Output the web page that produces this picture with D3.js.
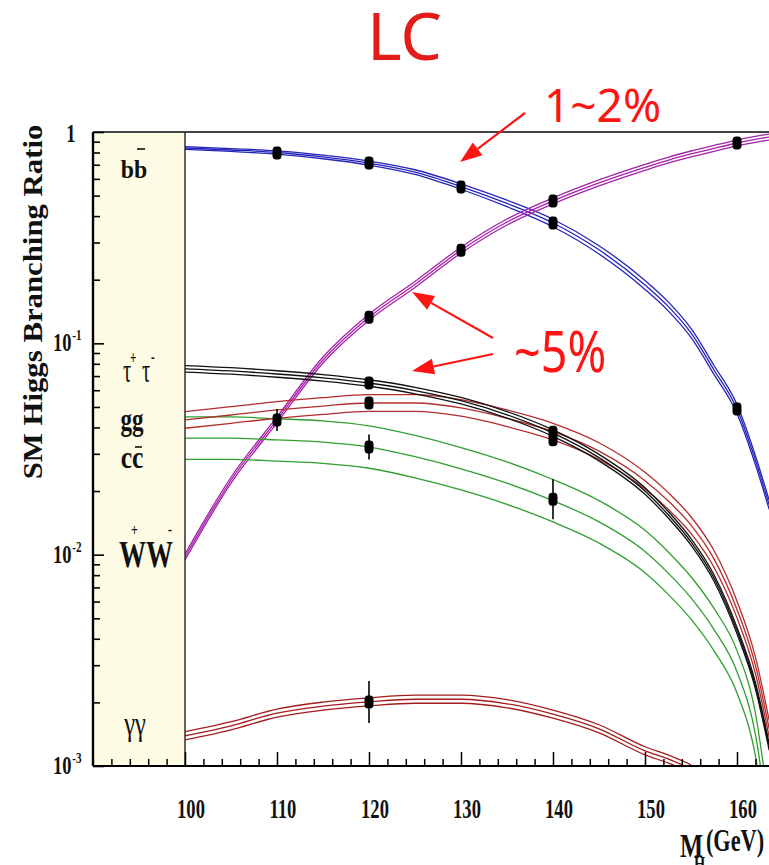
<!DOCTYPE html>
<html>
<head>
<meta charset="utf-8">
<script src="https://cdn.jsdelivr.net/npm/d3@7"></script>
<style>
  html, body { margin: 0; padding: 0; background: #fff; }
  svg { display: block; }
</style>
</head>
<body>
<svg id="chart" width="769" height="865"></svg>
<script>
// Higgs mass grid (GeV) at which the branching-ratio curves are sampled
const massGrid = [100, 105, 110, 115, 120, 125, 130, 135, 140, 145, 150, 152.5, 155, 157.5, 160, 162, 163.5];

// Central branching ratios per decay channel
const brBB     = [0.84, 0.822, 0.80, 0.762, 0.713, 0.646, 0.552, 0.459, 0.371, 0.277, 0.189, 0.15, 0.112, 0.0748, 0.0489, 0.028, 0.0172];
const brWW     = [0.00975, 0.0225, 0.0434, 0.0834, 0.133, 0.19, 0.276, 0.375, 0.472, 0.574, 0.68, 0.735, 0.787, 0.837, 0.887, 0.923, 0.946];
const brTauTau = [0.0757, 0.074, 0.0716, 0.0687, 0.0649, 0.0598, 0.0535, 0.0459, 0.0376, 0.0288, 0.02, 0.0155, 0.0115, 0.00776, 0.00437, 0.0024, 0.00123];
const brGG     = [0.0434, 0.0458, 0.0484, 0.0505, 0.0522, 0.0522, 0.0495, 0.0442, 0.0382, 0.0309, 0.0224, 0.018, 0.0138, 0.00955, 0.0055, 0.003, 0.0015];
const brCC     = [0.0356, 0.0356, 0.0349, 0.0341, 0.0323, 0.0291, 0.0255, 0.0218, 0.018, 0.0143, 0.01035, 0.0082, 0.00624, 0.00442, 0.00279, 0.00141, 0.0005];
const brGamGam = [0.00139, 0.00155, 0.00178, 0.00192, 0.00201, 0.00207, 0.00207, 0.00197, 0.00176, 0.0015, 0.00118, 0.00108, 0.00097, null, null, null, null];

// Relative half-width of the theory band around each curve
const bandBB = [0.016, 0.016, 0.018, 0.02, 0.022, 0.026, 0.03, 0.036, 0.042, 0.046, 0.05, 0.05, 0.05, 0.05, 0.05, 0.05, 0.05];
const bandWW = 0.033, bandTauTau = 0.036, bandGG = 0.095, bandCC = 0.26, bandGamGam = 0.045;

// Expected LC measurements: mass, branching ratio, relative error
const ptsBB     = { m: [110, 120, 130, 140, 160], v: [0.795, 0.713, 0.549, 0.371, 0.0489], e: [0.012, 0.015, 0.018, 0.022, 0.05] };
const ptsWW     = { m: [110, 120, 130, 140, 160], v: [0.0434, 0.133, 0.276, 0.472, 0.887], e: [0.127, 0.03, 0.02, 0.015, 0.01] };
const ptsTauTau = { m: [120, 140], v: [0.0649, 0.035], e: [0.05, 0.05] };
const ptsGG     = { m: [120, 140], v: [0.0522, 0.038], e: [0.055, 0.07] };
const ptsCC     = { m: [120, 140], v: [0.0323, 0.0183], e: [0.146, 0.243] };
const ptsGamGam = { m: [120], v: [0.00201], e: [0.257] };

// Axis ticks
const xMajorTicks = [100, 110, 120, 130, 140, 150, 160];
const yMajorTicks = [1, 0.1, 0.01, 0.001];
const yTickExp = ["", "-1", "-2", "-3"];

// Precision call-outs: [tail mass, tail BR, tip mass, tip BR]
const arrows = [
  [136.96, 1.23, 129.9, 0.721],
  [133.48, 0.106, 124.67, 0.175],
  [133.48, 0.089, 124.67, 0.074]
];

(function draw() {
  const svg = d3.select("#chart");
  const padL = 93, padR = 769, padT = 132, padB = 766;

  const x = d3.scaleLinear().domain([90, 165]).range([padL, padL + 75 * 9.2]);
  const y = d3.scaleLog().domain([1e-3, 1]).range([padB, padT]);

  const serif = "'Liberation Serif', 'DejaVu Serif', serif";
  const sans = "'Noto Sans', 'Open Sans', sans-serif";

  // Text helper: horizontally condensed serif lettering
  function label(g, px, py, s, size, sx, opts = {}) {
    return g.append("text")
      .attr("transform", `translate(${px},${py}) scale(${sx},1)`)
      .attr("font-family", opts.family || serif)
      .attr("font-weight", opts.weight || "bold")
      .attr("font-size", size)
      .attr("text-anchor", opts.anchor || "start")
      .attr("fill", opts.fill || "#111")
      .text(s);
  }
  // Multi-part label: pieces placed in the text's own (scaled) frame
  function composite(g, px, py, sx, parts) {
    const t = g.append("text")
      .attr("transform", `translate(${px},${py}) scale(${sx},1)`)
      .attr("font-family", serif).attr("fill", "#111");
    parts.forEach(p => {
      t.append("tspan")
        .attr("x", p.x).attr("y", p.y)
        .attr("font-size", p.size)
        .attr("font-weight", p.weight || "bold")
        .text(p.s);
    });
    return t;
  }

  // Cream channel-label panel on the left
  svg.append("rect")
    .attr("x", padL).attr("y", padT)
    .attr("width", x(100) - padL).attr("height", padB - padT)
    .attr("fill", "#fdfbe4");

  // Clip region for curves
  svg.append("defs").append("clipPath").attr("id", "plotClip")
    .append("rect").attr("x", x(100)).attr("y", padT)
    .attr("width", padR - x(100)).attr("height", padB - padT);

  const plot = svg.append("g").attr("clip-path", "url(#plotClip)");

  function series(vals) {
    return massGrid.map((m, i) => ({ m, v: vals[i] }));
  }
  const line = d3.line()
    .defined(d => d.v != null)
    .x(d => x(d.m)).y(d => y(d.v))
    .curve(d3.curveMonotoneX);

  const channels = [
    { vals: brBB, band: bandBB, color: "#2424b8" },
    { vals: brWW, band: bandWW, color: "#a522aa" },
    { vals: brCC, band: bandCC, color: "#2f9f2f" },
    { vals: brGG, band: bandGG, color: "#b52c2c" },
    { vals: brTauTau, band: bandTauTau, color: "#111111" },
    { vals: brGamGam, band: bandGamGam, color: "#a51c1c" }
  ];

  channels.forEach(ch => {
    const bw = i => Array.isArray(ch.band) ? ch.band[i] : ch.band;
    const mid = ch.vals;
    const hi = mid.map((v, i) => v == null ? null : v * (1 + bw(i)));
    const lo = mid.map((v, i) => v == null ? null : v / (1 + bw(i)));
    [hi, mid, lo].forEach(arr => {
      plot.append("path")
        .datum(series(arr))
        .attr("d", line)
        .attr("fill", "none")
        .attr("stroke", ch.color)
        .attr("stroke-width", 1.3);
    });
  });

  // Measurement markers with error bars
  [ptsBB, ptsWW, ptsTauTau, ptsGG, ptsCC, ptsGamGam].forEach(p => {
    p.m.forEach((m, i) => {
      const v = p.v[i], e = p.e[i];
      plot.append("line")
        .attr("x1", x(m)).attr("x2", x(m))
        .attr("y1", y(v * (1 + e))).attr("y2", y(v / (1 + e)))
        .attr("stroke", "#000").attr("stroke-width", 1.6);
      plot.append("rect")
        .attr("x", x(m) - 4.5).attr("y", y(v) - 6.5)
        .attr("width", 9).attr("height", 13)
        .attr("rx", 3.5).attr("ry", 4)
        .attr("fill", "#000");
    });
  });

  // Frame
  svg.append("line").attr("x1", padL).attr("x2", padR).attr("y1", padT).attr("y2", padT)
    .attr("stroke", "#444").attr("stroke-width", 2);
  svg.append("line").attr("x1", padL).attr("x2", padR).attr("y1", padB).attr("y2", padB)
    .attr("stroke", "#000").attr("stroke-width", 2.2);
  svg.append("line").attr("x1", padL).attr("x2", padL).attr("y1", padT).attr("y2", padB)
    .attr("stroke", "#000").attr("stroke-width", 2.4);
  svg.append("line").attr("x1", x(100)).attr("x2", x(100)).attr("y1", padT).attr("y2", padB)
    .attr("stroke", "#222").attr("stroke-width", 1.4);

  // Y axis ticks (inward)
  const yTickVals = d3.range(-3, 0).flatMap(k => d3.range(1, 10).map(j => j * Math.pow(10, k))).concat([1]);
  const yAxis = d3.axisRight(y).tickValues(yTickVals).tickSize(0).tickFormat("");
  const yg = svg.append("g").attr("transform", `translate(${padL},0)`).call(yAxis);
  yg.select(".domain").remove();
  yg.selectAll(".tick line")
    .attr("x2", d => yMajorTicks.some(t => Math.abs(t - d) < 1e-9) ? 11 : 7)
    .attr("stroke", "#000").attr("stroke-width", 1.6);

  // X axis ticks (inward)
  const xAxis = d3.axisTop(x).tickValues(d3.range(92, 165, 2)).tickSize(0).tickFormat("");
  const xg = svg.append("g").attr("transform", `translate(0,${padB})`).call(xAxis);
  xg.select(".domain").remove();
  xg.selectAll(".tick line")
    .attr("y2", d => d % 10 === 0 ? -14 : -7)
    .attr("stroke", "#000").attr("stroke-width", 1.5);

  // X tick labels
  xMajorTicks.forEach(t => {
    label(svg, x(t) + 6, 818, String(t), 26.5, 0.7, { anchor: "middle" });
  });

  // Y tick labels with exponents
  yMajorTicks.forEach((t, i) => {
    const py = y(t) + 8;
    if (yTickExp[i] === "") {
      label(svg, 71, py + 2, "1", 25, 0.74, { anchor: "middle" });
    } else {
      composite(svg, 53, py, 0.74, [
        { s: "10", x: 0, y: 0, size: 25 },
        { s: yTickExp[i], x: 26, y: -11, size: 15 }
      ]);
    }
  });

  // Axis titles
  svg.append("text")
    .attr("transform", "translate(42,302) rotate(-90) scale(1.14,1)")
    .attr("font-family", serif).attr("font-weight", "bold")
    .attr("font-size", 27).attr("text-anchor", "middle").attr("fill", "#111")
    .text("SM Higgs Branching Ratio");

  composite(svg, 680, 857, 0.72, [
    { s: "M", x: 0, y: 0, size: 34 },
    { s: "H", x: 19.4, y: 14, size: 20 },
    { s: "(GeV)", x: 36, y: -6, size: 31 }
  ]);

  // Channel labels in the left panel
  label(svg, 134, 178, "bb", 25, 0.95, { anchor: "middle" });
  svg.append("line").attr("x1", 137).attr("x2", 145).attr("y1", 149).attr("y2", 149)
    .attr("stroke", "#111").attr("stroke-width", 1.6);

  composite(svg, 123, 382, 0.62, [
    { s: "τ", x: 0, y: 0, size: 33, weight: "normal" },
    { s: "+", x: 11.3, y: -18, size: 18 },
    { s: "τ", x: 30.6, y: 0, size: 33, weight: "normal" },
    { s: "-", x: 45, y: -19, size: 18 }
  ]);

  label(svg, 132, 430, "gg", 32, 0.72, { anchor: "middle" });
  label(svg, 132, 468, "cc", 32, 0.8, { anchor: "middle" });
  svg.append("line").attr("x1", 135).attr("x2", 142).attr("y1", 447).attr("y2", 447)
    .attr("stroke", "#111").attr("stroke-width", 1.6);

  composite(svg, 119, 567, 0.71, [
    { s: "W", x: 0, y: 0, size: 38 },
    { s: "+", x: 17, y: -31, size: 17 },
    { s: "W", x: 38, y: 0, size: 38 },
    { s: "-", x: 69, y: -32, size: 17 }
  ]);

  label(svg, 135, 735, "γγ", 34, 0.72, { anchor: "middle", weight: "normal" });

  // Red call-outs
  const red = "#ff1414";
  svg.append("text").attr("x", 367).attr("y", 60)
    .attr("font-family", sans).attr("font-size", 66).attr("fill", "#e31b1b").text("LC");
  svg.append("text").attr("x", 544).attr("y", 122)
    .attr("font-family", sans).attr("font-size", 46).attr("fill", red).text("1~2%");
  svg.append("text").attr("transform", "translate(514,372) scale(0.82,1)")
    .attr("font-family", sans).attr("font-size", 57).attr("fill", red).text("~5%");

  arrows.forEach(([m0, v0, m1, v1]) => {
    const x0 = x(m0), y0 = y(v0), x1 = x(m1), y1 = y(v1);
    const ang = Math.atan2(y1 - y0, x1 - x0);
    const len = 22, hw = 8;
    const bx = x1 - len * Math.cos(ang), by = y1 - len * Math.sin(ang);
    svg.append("line").attr("x1", x0).attr("y1", y0).attr("x2", bx).attr("y2", by)
      .attr("stroke", red).attr("stroke-width", 2.2);
    const px = -Math.sin(ang) * hw, py = Math.cos(ang) * hw;
    svg.append("path")
      .attr("d", `M${x1},${y1}L${bx + px},${by + py}L${bx - px},${by - py}Z`)
      .attr("fill", red);
  });
})();
</script>
</body>
</html>
